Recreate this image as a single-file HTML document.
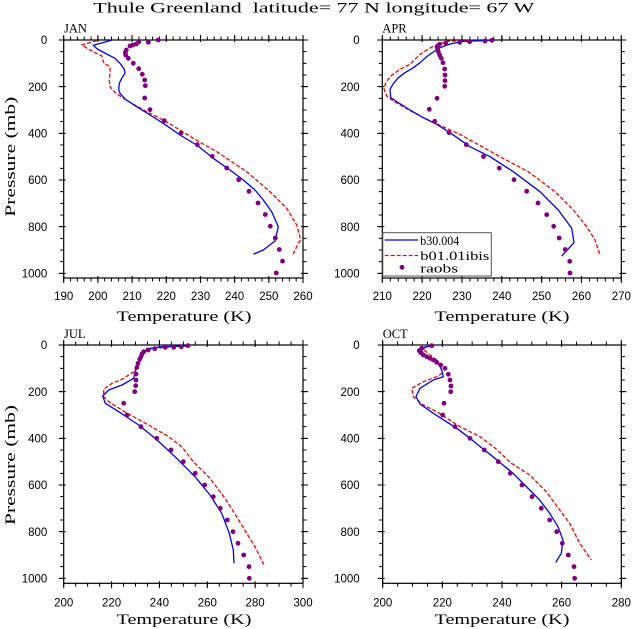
<!DOCTYPE html>
<html><head><meta charset="utf-8"><style>
html,body{margin:0;padding:0;background:#fff;}
svg{display:block;}
.t{font-family:"Liberation Sans",sans-serif;font-size:11.5px;fill:#000;}
.s{font-family:"Liberation Serif",serif;fill:#000;}
.b{fill:none;stroke:#0000ff;stroke-width:1.3;stroke-linejoin:round;}
.r{fill:none;stroke:#ff0000;stroke-width:1.3;stroke-dasharray:4 2;stroke-linejoin:round;}
.d circle{fill:#800080;}
.ax{fill:none;stroke:#000;stroke-width:1.2;}
.tk{stroke:#000;fill:none;}
</style></head><body>
<svg width="633" height="629" viewBox="0 0 633 629" xmlns="http://www.w3.org/2000/svg">
<rect width="633" height="629" fill="#fff"/>
<text class="s" x="93.3" y="12.3" font-size="15" textLength="441" lengthAdjust="spacingAndGlyphs">Thule Greenland&#160; latitude= 77 N longitude= 67 W</text>

<!-- ===== JAN ===== -->
<g>
<rect class="ax" x="63.7" y="40" width="239.3" height="238"/>
<line class="tk" x1="62.2" y1="39.5" x2="62.2" y2="274" stroke-width="7" stroke-dasharray="1 45.667"/>
<line class="tk" x1="61.95" y1="39.5" x2="61.95" y2="274" stroke-width="3.5" stroke-dasharray="1 10.667"/>
<line class="tk" x1="304.5" y1="39.5" x2="304.5" y2="274" stroke-width="7" stroke-dasharray="1 45.667"/>
<line class="tk" x1="304.75" y1="39.5" x2="304.75" y2="274" stroke-width="3.5" stroke-dasharray="1 10.667"/>
<line class="tk" x1="63.2" y1="38.5" x2="303.6" y2="38.5" stroke-width="7" stroke-dasharray="1 33.19"/>
<line class="tk" x1="63.2" y1="38.25" x2="303.6" y2="38.25" stroke-width="3.5" stroke-dasharray="1 5.838"/>
<line class="tk" x1="63.2" y1="279.5" x2="303.6" y2="279.5" stroke-width="7" stroke-dasharray="1 33.19"/>
<line class="tk" x1="63.2" y1="279.75" x2="303.6" y2="279.75" stroke-width="3.5" stroke-dasharray="1 5.838"/>
<g class="t" text-anchor="end">
<text x="47.3" y="44.1">0</text><text x="47.3" y="90.8">200</text><text x="47.3" y="137.4">400</text>
<text x="47.3" y="184.1">600</text><text x="47.3" y="230.8">800</text><text x="47.3" y="277.4">1000</text>
</g>
<g class="t" text-anchor="middle">
<text x="63.7" y="300">190</text><text x="97.9" y="300">200</text><text x="132.1" y="300">210</text>
<text x="166.3" y="300">220</text><text x="200.5" y="300">230</text><text x="234.6" y="300">240</text>
<text x="268.8" y="300">250</text><text x="303" y="300">260</text>
</g>
<text class="s" x="64" y="32.5" font-size="12.5">JAN</text>
<text class="s" x="184" y="321" font-size="15" text-anchor="middle" textLength="135" lengthAdjust="spacingAndGlyphs">Temperature (K)</text>
<text class="s" transform="translate(15,156.7) rotate(-90)" x="0" y="0" font-size="15" text-anchor="middle" textLength="120" lengthAdjust="spacingAndGlyphs">Pressure (mb)</text>
<polyline class="r" points="96.7,40.7 81.7,45 90,50 101.7,56 104,63.3 110,66.7 110,71.7 109.3,80 110,86.7 115,92.5 121,96.7 131.7,103.3 146.7,111.7 163.3,120 171.7,125 193.3,138.3 216.7,151.7 246.7,171.7 270,191.7 286.7,208.3 296.7,225 300.7,240 298.3,243.3 292.7,255"/>
<polyline class="b" points="111.7,40.3 93.3,45.3 97.3,49 106.7,54 115,58.3 120,63.3 124.3,69.3 125,73.3 121.7,78.3 119.3,83.3 118.7,89.3 120,93.3 125.3,99.3 136.7,106.7 150,115 163.3,123.3 180,135 196.7,145 213.3,158.3 230,170 243.3,180 255,190 263.3,200 271.7,211.7 278.3,226.7 275,241 263.3,250 253.3,254.3"/>
<g class="d">
<circle cx="158.3" cy="40" r="2.4"/><circle cx="148.3" cy="42.3" r="2.4"/><circle cx="138.7" cy="42" r="2.4"/><circle cx="136.3" cy="44" r="2.4"/>
<circle cx="132.7" cy="45" r="2.4"/><circle cx="130" cy="46" r="2.4"/><circle cx="126.3" cy="50" r="2.4"/><circle cx="125.3" cy="52.7" r="2.4"/>
<circle cx="125.7" cy="55" r="2.4"/><circle cx="128.3" cy="58.3" r="2.4"/><circle cx="133.3" cy="63.3" r="2.4"/><circle cx="138.7" cy="68.7" r="2.4"/>
<circle cx="142.3" cy="74.3" r="2.4"/><circle cx="144.7" cy="80" r="2.4"/><circle cx="145.3" cy="85.7" r="2.4"/><circle cx="144.7" cy="98" r="2.4"/>
<circle cx="150" cy="109.7" r="2.4"/><circle cx="164.3" cy="120.7" r="2.4"/><circle cx="181" cy="133" r="2.4"/><circle cx="197.3" cy="144.7" r="2.4"/>
<circle cx="212.3" cy="156.3" r="2.4"/><circle cx="226.7" cy="168" r="2.4"/><circle cx="238.7" cy="179.7" r="2.4"/><circle cx="249" cy="191.3" r="2.4"/>
<circle cx="258" cy="203" r="2.4"/><circle cx="265.3" cy="214.5" r="2.4"/><circle cx="270.3" cy="226.2" r="2.4"/><circle cx="275.3" cy="238" r="2.4"/>
<circle cx="279.3" cy="249.5" r="2.4"/><circle cx="282.5" cy="261.2" r="2.4"/><circle cx="276.3" cy="273" r="2.4"/>
</g>
</g>

<!-- ===== APR ===== -->
<g>
<rect class="ax" x="382.3" y="40" width="239" height="238"/>
<line class="tk" x1="380.8" y1="39.5" x2="380.8" y2="274" stroke-width="7" stroke-dasharray="1 45.667"/>
<line class="tk" x1="380.55" y1="39.5" x2="380.55" y2="274" stroke-width="3.5" stroke-dasharray="1 10.667"/>
<line class="tk" x1="622.8" y1="39.5" x2="622.8" y2="274" stroke-width="7" stroke-dasharray="1 45.667"/>
<line class="tk" x1="623.05" y1="39.5" x2="623.05" y2="274" stroke-width="3.5" stroke-dasharray="1 10.667"/>
<line class="tk" x1="381.8" y1="38.5" x2="621.9" y2="38.5" stroke-width="7" stroke-dasharray="1 38.83"/>
<line class="tk" x1="381.8" y1="38.25" x2="621.9" y2="38.25" stroke-width="3.5" stroke-dasharray="1 6.967"/>
<line class="tk" x1="381.8" y1="279.5" x2="621.9" y2="279.5" stroke-width="7" stroke-dasharray="1 38.83"/>
<line class="tk" x1="381.8" y1="279.75" x2="621.9" y2="279.75" stroke-width="3.5" stroke-dasharray="1 6.967"/>
<g class="t" text-anchor="end">
<text x="359.7" y="44.1">0</text><text x="359.7" y="90.8">200</text><text x="359.7" y="137.4">400</text>
<text x="359.7" y="184.1">600</text><text x="359.7" y="230.8">800</text><text x="359.7" y="277.4">1000</text>
</g>
<g class="t" text-anchor="middle">
<text x="382.3" y="300">210</text><text x="422.1" y="300">220</text><text x="462" y="300">230</text>
<text x="501.8" y="300">240</text><text x="541.6" y="300">250</text><text x="581.5" y="300">260</text><text x="621.3" y="300">270</text>
</g>
<text class="s" x="382.3" y="32.5" font-size="12.5">APR</text>
<text class="s" x="502" y="321" font-size="15" text-anchor="middle" textLength="135" lengthAdjust="spacingAndGlyphs">Temperature (K)</text>
<polyline class="r" points="480,40 446.7,41.3 431.7,47 420,54.3 410,64.3 400,69.3 391.7,75.3 386,82 384,88.7 386.7,96 393.3,101 406.7,108.7 423.3,117.7 440,125.3 461.7,135.3 470,140 500,156.7 528.3,171.7 555,191.7 573.3,210 586.7,226.7 595,240 600,255"/>
<polyline class="b" points="491.7,40.3 463.3,41.3 450,44 440,47.7 433.3,52 426.7,56.7 420,62.7 413.3,67.7 405,72.7 398.3,77.7 393.3,83.7 390,89.3 390.7,97.7 398.3,102.7 410,110 423.3,117.7 436.7,124.3 450,132.7 470,146.7 490,156.7 513.3,171.7 540,191.7 558.3,210 571.7,228.3 574,242.7 561.7,256"/>
<g class="d">
<circle cx="492" cy="40.3" r="2.4"/><circle cx="485" cy="41" r="2.4"/><circle cx="469.7" cy="41.7" r="2.4"/><circle cx="459.7" cy="42.3" r="2.4"/>
<circle cx="445.7" cy="43.3" r="2.4"/><circle cx="439.7" cy="44.3" r="2.4"/><circle cx="438" cy="45.7" r="2.4"/><circle cx="437" cy="46.7" r="2.4"/>
<circle cx="437.7" cy="48.7" r="2.4"/><circle cx="438.3" cy="51.7" r="2.4"/><circle cx="439.7" cy="55" r="2.4"/><circle cx="441.3" cy="58.3" r="2.4"/>
<circle cx="443" cy="62.7" r="2.4"/><circle cx="444.7" cy="69" r="2.4"/><circle cx="445" cy="75" r="2.4"/><circle cx="445" cy="80.7" r="2.4"/>
<circle cx="444.7" cy="86.3" r="2.4"/><circle cx="437" cy="98.3" r="2.4"/><circle cx="429.3" cy="109.3" r="2.4"/><circle cx="434.7" cy="121.3" r="2.4"/>
<circle cx="449" cy="132.7" r="2.4"/><circle cx="466.3" cy="144.7" r="2.4"/><circle cx="483.5" cy="156.5" r="2.4"/><circle cx="499.3" cy="168.2" r="2.4"/>
<circle cx="514" cy="179.7" r="2.4"/><circle cx="526.7" cy="191.3" r="2.4"/><circle cx="538" cy="203" r="2.4"/><circle cx="546.7" cy="214.7" r="2.4"/>
<circle cx="553.7" cy="226.3" r="2.4"/><circle cx="559.2" cy="238" r="2.4"/><circle cx="565.2" cy="249.5" r="2.4"/><circle cx="569.7" cy="261.3" r="2.4"/>
<circle cx="570" cy="273" r="2.4"/>
</g>
<rect x="382.8" y="232.7" width="108.5" height="43.3" fill="#fff" stroke="#555" stroke-width="1"/>
<line x1="384.7" y1="240" x2="418" y2="240" stroke="#0000ff" stroke-width="1.3"/>
<line x1="384.7" y1="255.5" x2="418" y2="255.5" stroke="#ff0000" stroke-width="1.3" stroke-dasharray="4 2"/>
<circle cx="402" cy="267.3" r="2.4" fill="#800080"/>
<text class="s" x="420.3" y="245" font-size="13" textLength="39" lengthAdjust="spacingAndGlyphs">b30.004</text>
<text class="s" x="420.3" y="260" font-size="13" textLength="69" lengthAdjust="spacingAndGlyphs">b01.01ibis</text>
<text class="s" x="420.3" y="272.7" font-size="13" textLength="37.7" lengthAdjust="spacingAndGlyphs">raobs</text>
</g>

<!-- ===== JUL ===== -->
<g>
<rect class="ax" x="63.7" y="345" width="239.3" height="238.3"/>
<line class="tk" x1="62.2" y1="344.5" x2="62.2" y2="579" stroke-width="7" stroke-dasharray="1 45.667"/>
<line class="tk" x1="61.95" y1="344.5" x2="61.95" y2="579" stroke-width="3.5" stroke-dasharray="1 10.667"/>
<line class="tk" x1="304.5" y1="344.5" x2="304.5" y2="579" stroke-width="7" stroke-dasharray="1 45.667"/>
<line class="tk" x1="304.75" y1="344.5" x2="304.75" y2="579" stroke-width="3.5" stroke-dasharray="1 10.667"/>
<line class="tk" x1="63.2" y1="343.5" x2="303.6" y2="343.5" stroke-width="7" stroke-dasharray="1 46.86"/>
<line class="tk" x1="63.2" y1="343.25" x2="303.6" y2="343.25" stroke-width="3.5" stroke-dasharray="1 10.965"/>
<line class="tk" x1="63.2" y1="584.8" x2="303.6" y2="584.8" stroke-width="7" stroke-dasharray="1 46.86"/>
<line class="tk" x1="63.2" y1="585.05" x2="303.6" y2="585.05" stroke-width="3.5" stroke-dasharray="1 10.965"/>
<g class="t" text-anchor="end">
<text x="47.3" y="349.1">0</text><text x="47.3" y="395.8">200</text><text x="47.3" y="442.4">400</text>
<text x="47.3" y="489.1">600</text><text x="47.3" y="535.8">800</text><text x="47.3" y="582.4">1000</text>
</g>
<g class="t" text-anchor="middle">
<text x="63.7" y="606.5">200</text><text x="111.6" y="606.5">220</text><text x="159.4" y="606.5">240</text>
<text x="207.3" y="606.5">260</text><text x="255.1" y="606.5">280</text><text x="303" y="606.5">300</text>
</g>
<text class="s" x="64" y="338" font-size="12.5">JUL</text>
<text class="s" x="184" y="624" font-size="15" text-anchor="middle" textLength="135" lengthAdjust="spacingAndGlyphs">Temperature (K)</text>
<text class="s" transform="translate(15,465) rotate(-90)" x="0" y="0" font-size="15" text-anchor="middle" textLength="120" lengthAdjust="spacingAndGlyphs">Pressure (mb)</text>
<polyline class="r" points="181,346 155.3,348.3 143.7,351.7 138.7,361.7 133.7,371.7 122,379.3 112,383.3 103.7,389.3 103.7,396.7 108.7,401.7 127,413.3 148.7,425 168.7,436.7 182,447 193.3,461.7 210,478.3 225,498.3 236.7,516.7 246.7,533.3 255,546.7 264,565"/>
<polyline class="b" points="187,346 162,346.7 150.3,348.3 143.7,351.7 140.3,358.3 137,366.7 134.7,373.3 133.7,378.3 122,385 108.7,390 102.7,396 105.3,403.3 118.7,411.7 138.7,425 156.5,439.5 175,456.7 195,476.7 210,495 221.7,513.3 229.3,533.3 233.3,550 234,563.3"/>
<g class="d">
<circle cx="188" cy="345.7" r="2.4"/><circle cx="181.3" cy="346.7" r="2.4"/><circle cx="173.7" cy="347.3" r="2.4"/><circle cx="165.3" cy="347.3" r="2.4"/>
<circle cx="154.7" cy="348.7" r="2.4"/><circle cx="148" cy="350" r="2.4"/><circle cx="143.7" cy="351.7" r="2.4"/><circle cx="142" cy="354" r="2.4"/>
<circle cx="141" cy="356.7" r="2.4"/><circle cx="139.7" cy="359.3" r="2.4"/><circle cx="138" cy="363.3" r="2.4"/><circle cx="137" cy="367.3" r="2.4"/>
<circle cx="136" cy="374" r="2.4"/><circle cx="136" cy="380" r="2.4"/><circle cx="135.7" cy="385.7" r="2.4"/><circle cx="134.7" cy="391.7" r="2.4"/>
<circle cx="123.7" cy="403.3" r="2.4"/><circle cx="127" cy="415" r="2.4"/><circle cx="141" cy="426.7" r="2.4"/><circle cx="156.7" cy="438.3" r="2.4"/>
<circle cx="171" cy="450" r="2.4"/><circle cx="183.3" cy="461.7" r="2.4"/><circle cx="195.3" cy="473.3" r="2.4"/><circle cx="204.7" cy="485" r="2.4"/>
<circle cx="213.3" cy="496.7" r="2.4"/><circle cx="220.3" cy="508.3" r="2.4"/><circle cx="227.3" cy="520" r="2.4"/><circle cx="233" cy="531.7" r="2.4"/>
<circle cx="238" cy="543.3" r="2.4"/><circle cx="243.7" cy="555" r="2.4"/><circle cx="249" cy="566.7" r="2.4"/><circle cx="249.3" cy="578.3" r="2.4"/>
</g>
</g>

<!-- ===== OCT ===== -->
<g>
<rect class="ax" x="382.7" y="345" width="238.6" height="238.3"/>
<line class="tk" x1="381.2" y1="344.5" x2="381.2" y2="579" stroke-width="7" stroke-dasharray="1 45.667"/>
<line class="tk" x1="380.95" y1="344.5" x2="380.95" y2="579" stroke-width="3.5" stroke-dasharray="1 10.667"/>
<line class="tk" x1="622.8" y1="344.5" x2="622.8" y2="579" stroke-width="7" stroke-dasharray="1 45.667"/>
<line class="tk" x1="623.05" y1="344.5" x2="623.05" y2="579" stroke-width="3.5" stroke-dasharray="1 10.667"/>
<line class="tk" x1="382.2" y1="343.5" x2="621.9" y2="343.5" stroke-width="7" stroke-dasharray="1 58.65"/>
<line class="tk" x1="382.2" y1="343.25" x2="621.9" y2="343.25" stroke-width="3.5" stroke-dasharray="1 13.91"/>
<line class="tk" x1="382.2" y1="584.8" x2="621.9" y2="584.8" stroke-width="7" stroke-dasharray="1 58.65"/>
<line class="tk" x1="382.2" y1="585.05" x2="621.9" y2="585.05" stroke-width="3.5" stroke-dasharray="1 13.91"/>
<g class="t" text-anchor="end">
<text x="359.7" y="349.1">0</text><text x="359.7" y="395.8">200</text><text x="359.7" y="442.4">400</text>
<text x="359.7" y="489.1">600</text><text x="359.7" y="535.8">800</text><text x="359.7" y="582.4">1000</text>
</g>
<g class="t" text-anchor="middle">
<text x="382.7" y="606.5">200</text><text x="442.3" y="606.5">220</text><text x="502" y="606.5">240</text>
<text x="561.6" y="606.5">260</text><text x="621.3" y="606.5">280</text>
</g>
<text class="s" x="382.7" y="338" font-size="12.5">OCT</text>
<text class="s" x="502" y="624" font-size="15" text-anchor="middle" textLength="135" lengthAdjust="spacingAndGlyphs">Temperature (K)</text>
<polyline class="r" points="426.7,346 423.3,349.3 428.3,353.3 436.7,360 440.7,366.7 442,373.3 436.7,376.7 423.3,381.7 411.7,388.3 413.3,396.7 423.3,405 436.7,411.7 460,426.7 480,436.7 495,448 511,463 529.7,475 546.3,491.7 559.7,510 569.7,523.3 579.7,543.3 591.3,560"/>
<polyline class="b" points="431.7,346 423.3,347.3 420.7,350 425,355 433.3,360 439.3,365 441.7,370 443.3,376.7 433.3,380 420,388.3 416,396.7 420,404 433.3,413.3 456.7,428.3 470,438.3 483,449 493,456.7 513,473.3 529.7,490 539.7,500 549.7,513.3 558,526.7 563,540 561.3,553.3 555.7,562.3"/>
<g class="d">
<circle cx="431.7" cy="345.7" r="2.4"/><circle cx="421.7" cy="348.3" r="2.4"/><circle cx="419.3" cy="350.7" r="2.4"/><circle cx="420.7" cy="352.7" r="2.4"/>
<circle cx="423.3" cy="355" r="2.4"/><circle cx="426.7" cy="356.7" r="2.4"/><circle cx="430" cy="358.3" r="2.4"/><circle cx="433.3" cy="360" r="2.4"/>
<circle cx="436.7" cy="362.3" r="2.4"/><circle cx="440.7" cy="365" r="2.4"/><circle cx="445" cy="368.3" r="2.4"/><circle cx="448.3" cy="374.3" r="2.4"/>
<circle cx="450" cy="380" r="2.4"/><circle cx="451" cy="386" r="2.4"/><circle cx="450.7" cy="391.7" r="2.4"/><circle cx="444" cy="403.3" r="2.4"/>
<circle cx="442.7" cy="415" r="2.4"/><circle cx="455" cy="426.7" r="2.4"/><circle cx="470" cy="438.3" r="2.4"/><circle cx="484.3" cy="450" r="2.4"/>
<circle cx="498.3" cy="461.7" r="2.4"/><circle cx="510.3" cy="473.3" r="2.4"/><circle cx="522" cy="485" r="2.4"/><circle cx="532" cy="496.7" r="2.4"/>
<circle cx="541.3" cy="508.3" r="2.4"/><circle cx="549.7" cy="520" r="2.4"/><circle cx="556.7" cy="531.7" r="2.4"/><circle cx="562.3" cy="543.3" r="2.4"/>
<circle cx="568.3" cy="555" r="2.4"/><circle cx="574" cy="566.7" r="2.4"/><circle cx="574.7" cy="578.3" r="2.4"/>
</g>
</g>
</svg>
</body></html>
